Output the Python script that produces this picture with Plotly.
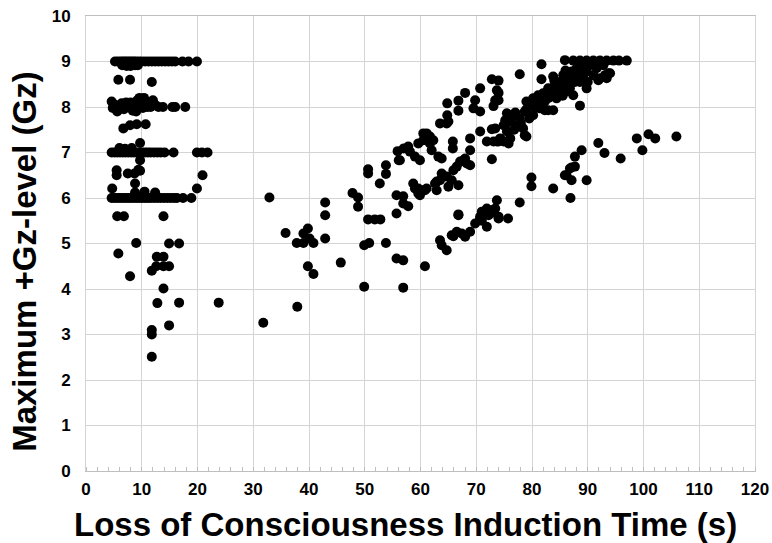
import plotly.graph_objects as go

# ---- data ----
left_x = [5.2,5.7,6.2,6.6,7.0,7.4,7.8,8.2,8.6,9.0,9.5,10.0,10.6,11.2,11.8,12.4,13.0,13.6,14.2,14.8,15.4,16.0,17.3,18.4,19.9,
          6.5,7.3,8.0,8.8,9.3,
          5.8,7.9,11.8,
          4.6,4.8,5.2,5.6,6.0,6.4,6.8,7.2,7.6,8.0,8.4,8.8,9.2,9.6,10.0,10.4,10.8,11.2,11.6,12.0,12.4,13.0,13.8,15.5,16.0,17.8,9.0,10.2,11.0,
          6.7,7.9,9.1,10.7,9.7,
          4.6,5.1,5.6,6.1,6.6,7.1,7.6,8.1,8.6,9.1,9.6,10.1,10.6,11.1,11.6,12.2,12.8,13.4,14.1,6.0,7.0,8.2,15.7,19.9,20.8,21.8,
          9.7,5.5,5.5,7.5,8.7,9.4,9.7,20.9,8.8,4.7,19.9,
          4.6,5.1,5.6,6.1,6.6,7.1,7.6,8.1,8.6,9.1,9.6,10.1,10.6,11.1,11.6,12.2,12.8,13.4,14.0,14.6,15.2,15.8,16.3,8.8,10.5,12.4,17.4,18.9,
          5.6,6.8,13.9,9.0,14.9,16.7,5.8,
          12.7,13.9,12.6,13.9,14.9,11.8,7.9,13.9,12.8,16.7,23.8,14.9,11.8,11.8,11.8]
left_y = [9]*25 + [8.92,8.9,8.9,8.92,8.92] + [8.6,8.6,8.55] + \
         [8.12,7.98,8.05,7.9,8.0,8.08,7.95,8.1,8.0,8.1,7.92,8.05,8.15,8.2,8.1,8.2,8.12,8.05,8.0,8.15,8.05,8.0,8.0,8.0,8.0,8.0,7.9,7.98,8.0] + \
         [7.53,7.6,7.62,7.62,7.21] + \
         [7]*19 + [7.1,7.08,7.1,7.0,7.0,7.0,7.0] + \
         [6.83,6.61,6.5,6.54,6.54,6.62,6.6,6.5,6.32,6.21,6.21] + \
         [6]*23 + [6.12,6.14,6.12,6.0,6.0] + \
         [5.6,5.6,5.6,5.01,5.0,5.0,4.78] + \
         [4.71,4.71,4.5,4.5,4.5,4.4,4.28,4.01,3.69,3.7,3.7,3.2,3.1,3.0,2.51]

mid_x = [32.9,42.9,42.9,42.9,35.8,39.8,39.0,37.8,39.0,40.1,40.8,39.8,40.8,45.7,37.9,31.8,49.9,56.9,49.9,50.8,53.8,55.7,56.9,60.8,
         50.6,51.8,52.8,47.8,48.8,48.8,50.6,50.6,53.8,53.8,52.7,55.7,56.9,56.9,57.8,55.7,58.7,59.6,60.8,59.9,62.9,62.9]
mid_y = [6.01,5.90,5.62,5.11,5.23,5.33,5.22,5.01,5.01,5.11,5.01,4.50,4.33,4.58,3.61,3.26,4.05,4.03,4.96,5.01,5.01,4.67,4.63,4.50,
         5.53,5.53,5.53,6.11,6.01,5.81,6.54,6.63,6.53,6.72,6.32,6.06,6.04,5.88,5.82,5.66,6.32,6.21,6.17,6.06,6.36,6.17]

upper_x = [55.9,56.1,57.0,57.8,58.1,59.0,59.9,59.6,60.5,61.1,61.7,61.7,62.0,63.2,63.8,63.5,64.7,64.8,64.8,66.8,66.8,68.0,69.8,70.7,
           69.5,70.7,73.4,73.7,65.8,65.8,68.9,68.9,70.7,72.8,71.9,73.1,74.0,72.8,60.5,61.1,62.3,72.8,74.0,74.0,73.1,74.0,65.0,56.3,
           59.0,59.6,60.2,61.1,62.6,63.5,63.8,64.7,65.0,65.6,65.9,66.5,66.8,67.1,67.7,68.3,68.9,68.0,66.8]
upper_y = [7.03,6.83,7.09,7.13,7.02,6.91,6.83,7.20,7.27,7.42,7.35,7.20,7.05,6.91,6.87,7.64,7.64,7.82,8.08,8.14,7.92,8.31,8.15,8.41,
           7.97,7.90,8.15,8.37,7.24,7.09,7.31,7.05,7.46,7.51,7.24,7.24,7.24,6.85,7.42,7.27,7.27,8.61,8.58,8.31,8.02,8.15,7.68,6.83,
           6.21,6.10,6.17,6.21,6.32,6.39,6.54,6.47,6.25,6.39,6.61,6.69,6.28,6.80,6.83,6.76,6.72,6.87,5.62]

lower_x = [63.5,63.8,64.7,65.6,66.5,67.4,68.0,68.9,69.8,70.7,71.3,71.9,71.9,72.5,73.4,74.0,73.7,70.7,71.0,72.8,74.0,75.7,77.8,66.8,65.9,71.0,72.2,
           79.9,79.9,83.8,86.9,85.9,86.8,87.7,87.7,87.1,89.8,88.9,93.0,91.9,95.9,98.8,99.8,100.9,102.1,105.9,86.2,87.1]
lower_y = [5.07,4.96,4.85,5.18,5.26,5.22,5.15,5.26,5.44,5.59,5.70,5.77,5.37,5.66,5.77,5.59,5.95,5.55,5.70,5.73,5.55,5.55,5.90,5.64,5.16,5.50,5.62,
           6.45,6.26,6.21,6.00,6.50,6.65,6.69,6.91,6.39,6.39,7.05,6.99,7.21,6.87,7.31,7.05,7.40,7.31,7.35,6.50,6.67]

band_x = [74.3,75.5,75.2,76.1,76.6,77.8,78.7,79.0,79.6,80.2,81.1,81.4,82.0,82.9,83.5,84.1,83.8,85.0,85.6,86.2,87.1,86.8,87.7,88.3,88.9,
          89.8,90.4,91.6,92.2,93.7,92.8,89.8,82.9,78.7,73.4,73.7,74.9,75.8,79.0,77.3,78.4,80.2,81.4,82.3,84.4,85.0,86.2,87.4,88.6,89.2,
          91.0,91.9,88.3,93.4,77.8,81.7,81.7,85.9,87.4,88.6,89.8,91.0,92.2,93.4,94.6,95.6,97.0,94.0,93.1,91.9,88.6,76.1,82.3,83.8,75.5,
          75.2,74.9,76.8,80.5,83.0,84.8,86.5,85.5,79.5,78.0,
          80.8,81.9,83.2,84.6,85.8,87.0,88.0,90.0,84.0,86.0,79.0,77.0]
band_y = [7.31,7.46,7.60,7.68,7.82,7.75,7.90,8.12,8.04,8.19,8.26,8.08,8.30,8.41,8.34,8.48,8.67,8.55,8.70,8.63,8.78,8.41,8.55,8.70,8.85,
          8.78,8.92,8.85,8.63,8.74,8.92,8.41,7.93,7.38,7.53,7.24,7.24,7.20,7.35,7.60,7.53,7.82,7.97,8.12,8.19,8.34,8.34,8.26,8.55,8.63,
          8.70,9.0,8.92,8.63,8.72,8.94,8.61,9.03,9.02,9.02,9.02,9.02,9.02,9.02,9.02,9.02,9.02,8.74,8.70,8.59,8.03,7.31,7.93,7.93,7.86,
          7.71,7.60,7.5,8.0,8.2,8.4,8.5,8.25,7.75,7.65,
          8.15,8.05,8.28,8.30,8.45,8.62,8.85,8.55,8.58,8.80,7.95,7.88]

x_vals = left_x + mid_x + upper_x + lower_x + band_x
y_vals = left_y + mid_y + upper_y + lower_y + band_y

x_ticks = list(range(0, 121, 10))
y_ticks = list(range(0, 11, 1))
x_title = "Loss of Consciousness Induction Time (s)"
y_title = "Maximum +Gz-level (Gz)"

FONT = "Liberation Sans, Arial, sans-serif"

fig = go.Figure()
fig.add_trace(go.Scatter(
    x=x_vals, y=y_vals, mode="markers",
    marker=dict(color="black", size=10, line=dict(width=0)),
    showlegend=False, hoverinfo="x+y"))

fig.update_layout(
    width=772, height=543,
    margin=dict(l=86, r=17, t=16, b=72, autoexpand=False),
    paper_bgcolor="white", plot_bgcolor="white",
    font=dict(family=FONT, color="black"),
    annotations=[
        dict(text="<b>" + x_title + "</b>", xref="paper", yref="paper",
             x=0.477, y=-0.118, xanchor="center", yanchor="middle",
             showarrow=False, font=dict(size=33, family=FONT, color="black")),
        dict(text="<b>" + y_title + "</b>", xref="paper", yref="paper",
             x=-0.091, y=0.46, xanchor="center", yanchor="middle", textangle=-90,
             showarrow=False, font=dict(size=33, family=FONT, color="black")),
    ],
)
fig.update_xaxes(
    range=[0, 120], tickvals=x_ticks, ticktext=[f"<b>{v}</b>" for v in x_ticks],
    tickfont=dict(size=17, family=FONT, color="black"),
    showgrid=True, gridcolor="#d4d4d4", gridwidth=1, automargin=False,
    zeroline=False, showline=True, linecolor="#bfbfbf", linewidth=1, mirror=True,
    ticks="", ticklabelstandoff=3,
    minor=dict(dtick=2, ticks="inside", ticklen=4, tickcolor="#bfbfbf", showgrid=False),
)
fig.update_yaxes(
    range=[0, 10], tickvals=y_ticks, ticktext=[f"<b>{v}</b>" for v in y_ticks],
    tickfont=dict(size=17, family=FONT, color="black"),
    showgrid=True, gridcolor="#d4d4d4", gridwidth=1, automargin=False,
    zeroline=False, showline=True, linecolor="#d4d4d4", linewidth=1, mirror=True,
    ticks="", ticklabelstandoff=11,
)

fig.write_html("out.html")
